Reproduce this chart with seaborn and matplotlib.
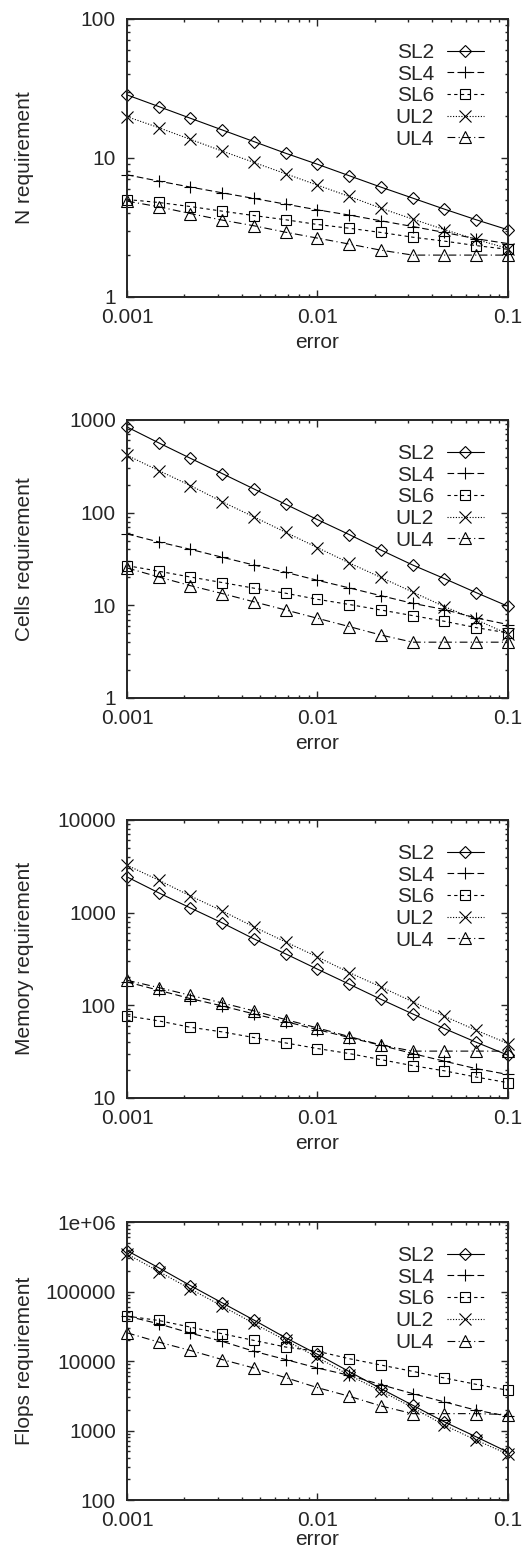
"""Grid requirements of the different schemes vs. target error (log-log)."""

import seaborn as sns
import pandas as pd
import matplotlib.pyplot as plt
from matplotlib.ticker import FuncFormatter, NullFormatter, LogLocator

# error values on the x axis
error = [0.001, 0.00147, 0.00215, 0.00316, 0.00464, 0.00681, 0.01,
         0.0147, 0.0215, 0.0316, 0.0464, 0.0681, 0.1]

schemes = ["SL2", "SL4", "SL6", "UL2", "UL4"]

# N requirement
n_sl2 = [28.4, 23.4, 19.3, 15.9, 13.1, 10.8, 9.0, 7.44, 6.17, 5.14, 4.28, 3.59, 3.04]
n_sl4 = [7.56, 6.81, 6.17, 5.61, 5.11, 4.65, 4.23, 3.88, 3.53, 3.21, 2.91, 2.62, 2.42]
n_sl6 = [5.02, 4.78, 4.47, 4.14, 3.85, 3.59, 3.32, 3.12, 2.91, 2.69, 2.52, 2.34, 2.2]
n_ul2 = [19.8, 16.5, 13.6, 11.2, 9.28, 7.69, 6.37, 5.28, 4.35, 3.63, 3.05, 2.59, 2.23]
n_ul4 = [4.89, 4.45, 3.98, 3.57, 3.25, 2.92, 2.65, 2.4, 2.17, 2.0, 2.0, 2.0, 2.0]

# Cells requirement
c_sl2 = [840, 565, 386, 264, 180, 123, 84, 57.9, 39.5, 27.2, 19.4, 13.7, 9.76]
c_sl4 = [58.9, 48.2, 40.2, 33.0, 27.2, 22.7, 18.6, 15.4, 12.7, 10.5, 9.0, 7.3, 6.2]
c_sl6 = [26.8, 23.3, 20.2, 17.6, 15.3, 13.5, 11.6, 10.2, 8.9, 7.74, 6.72, 5.74, 5.03]
c_ul2 = [415, 284, 196, 131, 89.8, 61.3, 41.9, 28.6, 20.0, 13.9, 9.67, 7.0, 4.9]
c_ul4 = [25.3, 20.2, 16.3, 13.4, 10.9, 8.9, 7.24, 5.89, 4.78, 4.0, 4.0, 4.0, 4.0]

# Memory requirement
m_sl2 = [2426, 1630, 1123, 774, 520, 358, 245, 168.5, 116, 80.6, 56, 39.9, 28.9]
m_sl4 = [178.5, 145, 118, 98.4, 80.6, 66.6, 54.6, 44.8, 37.0, 30.1, 24.9, 20.7, 17.9]
m_sl6 = [76.7, 67.8, 57.9, 51.6, 44.8, 39.2, 34.1, 30.1, 25.9, 22.3, 19.6, 16.8, 14.6]
m_ul2 = [3243, 2234, 1513, 1042, 700, 482, 332, 225, 158, 109, 76, 53.7, 38.6]
m_ul4 = [186, 155, 128, 106, 86.9, 70, 56.9, 45.9, 37.3, 32, 32, 32, 32]

# Flops requirement
f_sl2 = [388000, 219000, 122000, 68700, 38800, 21600, 12500, 7030, 4010, 2310, 1330, 811, 489]
f_sl4 = [44300, 34300, 25200, 19200, 13800, 10500, 7930, 6230, 4570, 3400, 2580, 1960, 1610]
f_sl6 = [44300, 38300, 30800, 24700, 19800, 15900, 13800, 10800, 8760, 7110, 5700, 4620, 3790]
f_ul2 = [347000, 194000, 109000, 61600, 34700, 19800, 11300, 6230, 3710, 2140, 1190, 727, 457]
f_ul4 = [25500, 18700, 14200, 10500, 7930, 5760, 4140, 3110, 2260, 1750, 1750, 1750, 1700]

ylabels = ["N requirement", "Cells requirement", "Memory requirement", "Flops requirement"]
ylims = [(1, 100), (1, 1000), (10, 10000), (100, 1e6)]
panel_data = [
    [n_sl2, n_sl4, n_sl6, n_ul2, n_ul4],
    [c_sl2, c_sl4, c_sl6, c_ul2, c_ul4],
    [m_sl2, m_sl4, m_sl6, m_ul2, m_ul4],
    [f_sl2, f_sl4, f_sl6, f_ul2, f_ul4],
]

# gnuplot-like line styles
styles = {
    "SL2": dict(linestyle="-", marker="D", ms=6.5),
    "SL4": dict(linestyle=(0, (6, 3)), marker="+", ms=9),
    "SL6": dict(linestyle=(0, (3, 3)), marker="s", ms=7.5),
    "UL2": dict(linestyle=(0, (1, 1.5)), marker="x", ms=8),
    "UL4": dict(linestyle=(0, (7, 3, 1, 3)), marker="^", ms=8),
}

sns.set_style("ticks")
plt.rcParams["font.family"] = ["Liberation Sans", "DejaVu Sans"]
plt.rcParams["xtick.direction"] = "in"
plt.rcParams["ytick.direction"] = "in"
plt.rcParams["xtick.top"] = True
plt.rcParams["ytick.right"] = True

fig = plt.figure(figsize=(5.23, 15.49), dpi=100)

# axes boxes in figure fraction (left, bottom, width, height)
bottoms = [0.8083, 0.5494, 0.2912, 0.0316]
# last panel's x label sits a bit higher so it stays inside the figure
xlabel_y = [-0.13, -0.13, -0.13, -0.108]

for i in range(4):
    ax = fig.add_axes([0.2428, bottoms[i], 0.7285, 0.1795])
    for name, vals in zip(schemes, panel_data[i]):
        df = pd.DataFrame({"error": error, "value": vals})
        st = styles[name]
        sns.lineplot(
            data=df, x="error", y="value", ax=ax,
            color="black", linewidth=0.8,
            linestyle=st["linestyle"], marker=st["marker"], markersize=st["ms"],
            markerfacecolor="none", markeredgecolor="black", markeredgewidth=0.8,
            label=name, clip_on=False, legend=False,
        )
    ax.set_xscale("log")
    ax.set_yscale("log")
    ax.set_xlim(0.001, 0.1)
    ax.set_ylim(*ylims[i])

    fmt = FuncFormatter(lambda v, p: "%g" % v)
    ax.xaxis.set_major_formatter(fmt)
    ax.yaxis.set_major_formatter(fmt)
    ax.xaxis.set_minor_locator(LogLocator(subs=range(2, 10)))
    ax.yaxis.set_minor_locator(LogLocator(subs=range(2, 10)))
    ax.xaxis.set_minor_formatter(NullFormatter())
    ax.yaxis.set_minor_formatter(NullFormatter())
    ax.tick_params(which="major", length=5, width=1.0, labelsize=15, pad=8)
    ax.tick_params(which="minor", length=2.5, width=1.0)
    for sp in ax.spines.values():
        sp.set_linewidth(1.4)

    ax.set_xlabel("error", fontsize=15)
    ax.set_ylabel(ylabels[i], fontsize=15)
    ax.xaxis.set_label_coords(0.5, xlabel_y[i])
    ax.yaxis.set_label_coords(-0.245, 0.5)

    ax.legend(loc="upper right", frameon=False, markerfirst=False, fontsize=15,
              handlelength=1.8, handletextpad=0.6, labelspacing=0.13,
              borderpad=0.15, borderaxespad=1.0, numpoints=1)

fig.savefig("out.png", dpi=100)
